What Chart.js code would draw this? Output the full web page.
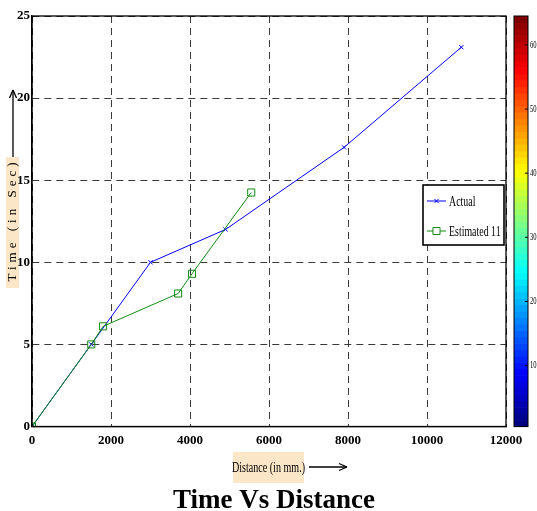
<!DOCTYPE html>
<html><head><meta charset="utf-8">
<script src="https://cdn.jsdelivr.net/npm/chart.js@4/dist/chart.umd.min.js"></script>
<style>html,body{margin:0;padding:0;background:#fff}#wrap{width:537px;height:511px}</style>
</head><body><div id="wrap"><canvas id="c" width="537" height="511"></canvas></div>
<script>
const actualX = [0, 1500, 3000, 4900, 7900, 10870];
const actualY = [0, 5, 10, 12, 17, 23.1];
const estX = [0, 1500, 1800, 3700, 4050, 5550];
const estY = [0, 5, 6.1, 8.1, 9.3, 14.25];
const xTicks = [0, 2000, 4000, 6000, 8000, 10000, 12000];
const yTicks = [0, 5, 10, 15, 20, 25];
const cbTicks = [10, 20, 30, 40, 50, 60];
const cbRange = [0.5, 64.5];
const seriesNames = ['Actual', 'Estimated 11'];
const titleText = 'Time Vs Distance';
const xTitle = 'Distance (in mm.)';
const yTitle = 'Time (in Sec)';

const SERIF = '"Liberation Serif", "Times New Roman", serif';
const BLUE = '#0000ff';
const GREEN = '#108c10';
const BEIGE = '#fbe6c8';

function jet(v) {
  const c = t => Math.round(255 * Math.max(0, Math.min(1, t)));
  return `rgb(${c(1.5 - Math.abs(4 * v - 3))},${c(1.5 - Math.abs(4 * v - 2))},${c(1.5 - Math.abs(4 * v - 1))})`;
}

function arrow(ctx, x1, y1, x2, y2) {
  ctx.save();
  ctx.strokeStyle = '#000'; ctx.fillStyle = '#000'; ctx.lineWidth = 1.3;
  ctx.beginPath(); ctx.moveTo(x1, y1); ctx.lineTo(x2, y2); ctx.stroke();
  const a = Math.atan2(y2 - y1, x2 - x1);
  ctx.beginPath();
  ctx.moveTo(x2, y2);
  ctx.lineTo(x2 - 8 * Math.cos(a) + 3.5 * Math.sin(a), y2 - 8 * Math.sin(a) - 3.5 * Math.cos(a));
  ctx.moveTo(x2, y2);
  ctx.lineTo(x2 - 8 * Math.cos(a) - 3.5 * Math.sin(a), y2 - 8 * Math.sin(a) + 3.5 * Math.cos(a));
  ctx.stroke();
  ctx.restore();
}

const decor = {
  id: 'decor',
  beforeDraw(chart) {
    const ctx = chart.ctx;
    ctx.save();
    ctx.fillStyle = BEIGE;
    ctx.fillRect(6, 157, 13, 131);
    ctx.translate(13, 222);
    ctx.rotate(-Math.PI / 2);
    ctx.fillStyle = '#000';
    ctx.font = '13px ' + SERIF;
    ctx.letterSpacing = '4px';
    ctx.textAlign = 'center';
    ctx.textBaseline = 'middle';
    ctx.fillText(yTitle, 2, 0);
    ctx.letterSpacing = '0px';
    ctx.restore();
    arrow(ctx, 13, 157, 13, 90);
  },
  afterDraw(chart) {
    const ctx = chart.ctx;
    const a = chart.chartArea;
    ctx.save();
    ctx.letterSpacing = '0px';
    ctx.strokeStyle = '#000'; ctx.lineWidth = 1.3;
    ctx.strokeRect(a.left, a.top, a.right - a.left, a.bottom - a.top);

    // legend
    const lx = 423, ly = 185, lw = 81, lh = 60;
    ctx.fillStyle = '#fff';
    ctx.fillRect(lx, ly, lw, lh);
    ctx.lineWidth = 1.6; ctx.strokeStyle = '#000';
    ctx.strokeRect(lx, ly, lw, lh);
    const ds = chart.data.datasets;
    const rows = [201, 231];
    ds.forEach((d, i) => {
      const y = rows[i];
      ctx.strokeStyle = d.borderColor; ctx.lineWidth = 1;
      ctx.beginPath(); ctx.moveTo(427, y); ctx.lineTo(446, y); ctx.stroke();
      Chart.helpers.drawPoint(ctx, {pointStyle: d.pointStyle, radius: d.pointRadius, borderWidth: 1}, 436.5, y);
      ctx.save();
      ctx.translate(449, y);
      ctx.scale(0.66, 1);
      ctx.fillStyle = '#000';
      ctx.font = '15px ' + SERIF;
      ctx.textBaseline = 'middle';
      ctx.textAlign = 'left';
      ctx.fillText(d.label, 0, 1);
      ctx.restore();
    });

    // colorbar
    const cx = 514, cw = 14, ct = a.top, cb = a.bottom;
    const n = 64;
    for (let i = 0; i < n; i++) {
      const y0 = cb - (i + 1) * (cb - ct) / n;
      ctx.fillStyle = jet(i / (n - 1));
      ctx.fillRect(cx, y0, cw, (cb - ct) / n + 0.6);
    }
    ctx.strokeStyle = '#000'; ctx.lineWidth = 1;
    ctx.strokeRect(cx, ct, cw, cb - ct);
    ctx.fillStyle = '#000';
    ctx.font = '11px ' + SERIF;
    ctx.textBaseline = 'middle';
    ctx.textAlign = 'left';
    cbTicks.forEach(t => {
      const y = cb - (t - cbRange[0]) / (cbRange[1] - cbRange[0]) * (cb - ct);
      ctx.beginPath(); ctx.moveTo(cx + cw - 3, y); ctx.lineTo(cx + cw, y); ctx.stroke();
      ctx.save(); ctx.translate(cx + cw + 2, y); ctx.scale(0.6, 1);
      ctx.fillText(String(t), 0, 0);
      ctx.restore();
    });

    // x-axis title
    ctx.fillStyle = BEIGE;
    ctx.fillRect(233, 452, 71, 31);
    ctx.save();
    ctx.translate(268.5, 468);
    ctx.scale(0.72, 1);
    ctx.fillStyle = '#000';
    ctx.font = '14px ' + SERIF;
    ctx.textAlign = 'center';
    ctx.textBaseline = 'middle';
    ctx.fillText(xTitle, 0, 0);
    ctx.restore();
    arrow(ctx, 309, 467, 347, 467);

    // main title
    ctx.fillStyle = '#000';
    ctx.font = 'bold 27px ' + SERIF;
    ctx.textAlign = 'center';
    ctx.textBaseline = 'alphabetic';
    ctx.fillText(titleText, 274, 508);
    ctx.restore();
  }
};

const tickFont = {family: SERIF, size: 13, weight: 'bold'};

new Chart(document.getElementById('c'), {
  type: 'scatter',
  data: {
    datasets: [
      {
        label: seriesNames[0],
        data: actualX.map((x, i) => ({x, y: actualY[i]})),
        showLine: true,
        borderColor: BLUE,
        backgroundColor: BLUE,
        borderWidth: 1,
        pointStyle: 'crossRot',
        pointRadius: 3,
        pointBorderWidth: 1,
        order: 1
      },
      {
        label: seriesNames[1],
        data: estX.map((x, i) => ({x, y: estY[i]})),
        showLine: true,
        borderColor: GREEN,
        backgroundColor: 'rgba(0,0,0,0)',
        borderWidth: 1,
        pointStyle: 'rect',
        pointRadius: 5,
        pointBorderWidth: 1,
        order: 0
      }
    ]
  },
  options: {
    responsive: false,
    animation: false,
    devicePixelRatio: 1,
    layout: {padding: {left: 0, top: 16, right: 31, bottom: 0}},
    plugins: {legend: {display: false}, title: {display: false}, tooltip: {enabled: false}},
    elements: {line: {tension: 0}},
    scales: {
      x: {
        type: 'linear', min: 0, max: 12000,
        afterBuildTicks: s => { s.ticks = xTicks.map(v => ({value: v})); },
        afterFit: s => { s.height = 84.5; },
        ticks: {font: tickFont, color: '#000', padding: 6, maxRotation: 0, autoSkip: false, callback: v => String(v)},
        grid: {color: '#3a3a3a', lineWidth: 1, drawTicks: false},
        border: {display: true, color: '#000', width: 1.3, dash: [7, 5]}
      },
      y: {
        type: 'linear', min: 0, max: 25,
        afterBuildTicks: s => { s.ticks = yTicks.map(v => ({value: v})); },
        afterFit: s => { s.width = 32; },
        ticks: {font: tickFont, color: '#000', padding: 2, autoSkip: false, callback: v => String(v)},
        grid: {color: '#3a3a3a', lineWidth: 1, drawTicks: false},
        border: {display: true, color: '#000', width: 1.3, dash: [7, 5]}
      }
    }
  },
  plugins: [decor]
});
</script>
</body></html>
